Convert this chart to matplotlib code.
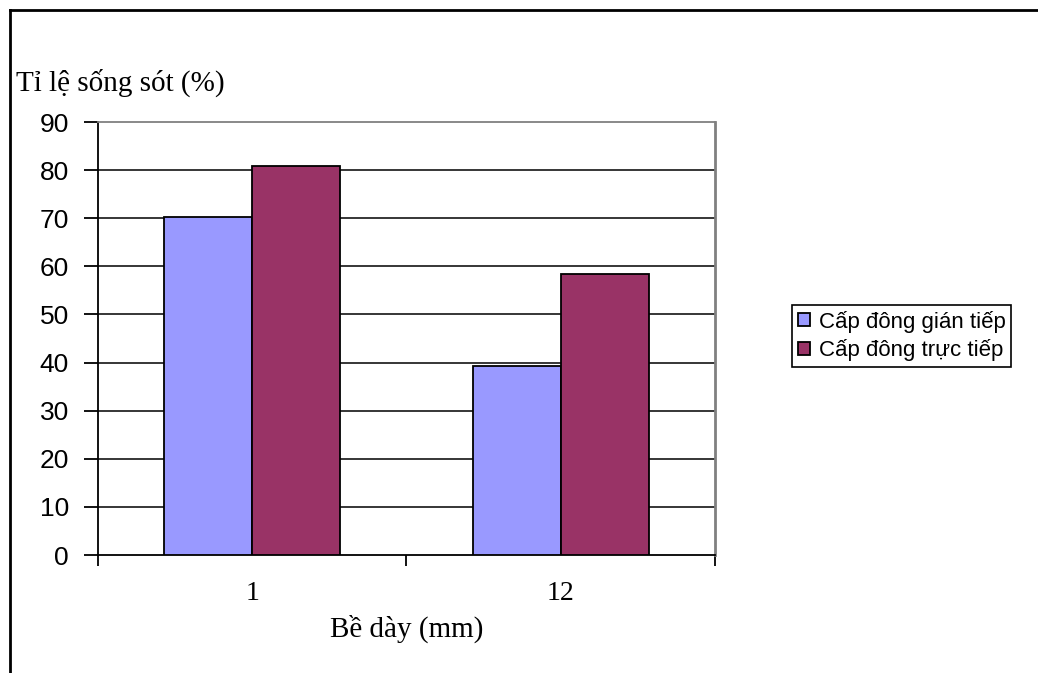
import matplotlib.pyplot as plt
import numpy as np
from matplotlib.lines import Line2D

# Số liệu
be_day = ['1', '12']
gian_tiep = [70.3, 39.2]
truc_tiep = [80.9, 58.4]
ten_series = ['Cấp đông gián tiếp', 'Cấp đông trực tiếp']
y_ticks = [0, 10, 20, 30, 40, 50, 60, 70, 80, 90]

serif = ['Liberation Serif', 'DejaVu Serif']
sans = ['Liberation Sans', 'DejaVu Sans']

fig = plt.figure(figsize=(10.38, 6.73), dpi=100)
ax = fig.add_axes([0.0944, 0.1753, 0.5944, 0.6434])

x = np.arange(len(be_day))
w = 1 / 3.5
ax.bar(x - w / 2, gian_tiep, w, color='#9999FF', edgecolor='black', linewidth=1.3,
       label=ten_series[0], zorder=3)
ax.bar(x + w / 2, truc_tiep, w, color='#993366', edgecolor='black', linewidth=1.3,
       label=ten_series[1], zorder=3)

ax.set_xlim(-0.5, len(be_day) - 0.5)
ax.set_ylim(0, 90)

# lưới ngang
ax.hlines(y_ticks[1:-1], -0.5, len(be_day) - 0.5, colors='black', linewidth=1.1, zorder=1)

ax.set_yticks(y_ticks)
ax.set_yticklabels([str(v) for v in y_ticks], family=sans, fontsize=19)
ax.tick_params(axis='y', direction='out', length=10, width=1.3, pad=11, color='black')

ax.set_xticks(x)
ax.set_xticklabels(be_day, family=serif, fontsize=20)
ax.tick_params(axis='x', which='major', length=0, pad=19)
ax.set_xticks(np.arange(-0.5, len(be_day)), minor=True)
ax.tick_params(axis='x', which='minor', direction='out', length=8, width=1.3)

ax.spines['left'].set_linewidth(1.3)
ax.spines['bottom'].set_linewidth(1.3)
ax.spines['top'].set_color('#808080')
ax.spines['right'].set_color('#808080')
ax.spines['top'].set_linewidth(1.3)
ax.spines['right'].set_linewidth(2)

ax.set_xlabel('Bề dày (mm)', family=serif, fontsize=21, labelpad=6)
fig.text(16 / 1038, 1 - 91 / 673, 'Tỉ lệ sống sót (%)', family=serif, fontsize=21,
         ha='left', va='baseline')

leg = ax.legend(loc='upper left', bbox_to_anchor=(792 / 1038, 1 - 305 / 673),
                bbox_transform=fig.transFigure, borderaxespad=0, fancybox=False,
                edgecolor='black', framealpha=1, prop={'family': sans, 'size': 16},
                handlelength=0.55, handleheight=0.55, handletextpad=0.4,
                borderpad=0.25, labelspacing=0.3)
leg.get_frame().set_linewidth(1.2)

# khung ngoài của biểu đồ
fig.add_artist(Line2D([10 / 1038, 10 / 1038], [0, 1 - 10 / 673], transform=fig.transFigure,
                      color='black', linewidth=2))
fig.add_artist(Line2D([10 / 1038, 1], [1 - 10 / 673, 1 - 10 / 673], transform=fig.transFigure,
                      color='black', linewidth=2))

fig.savefig('out.png', dpi=100)
